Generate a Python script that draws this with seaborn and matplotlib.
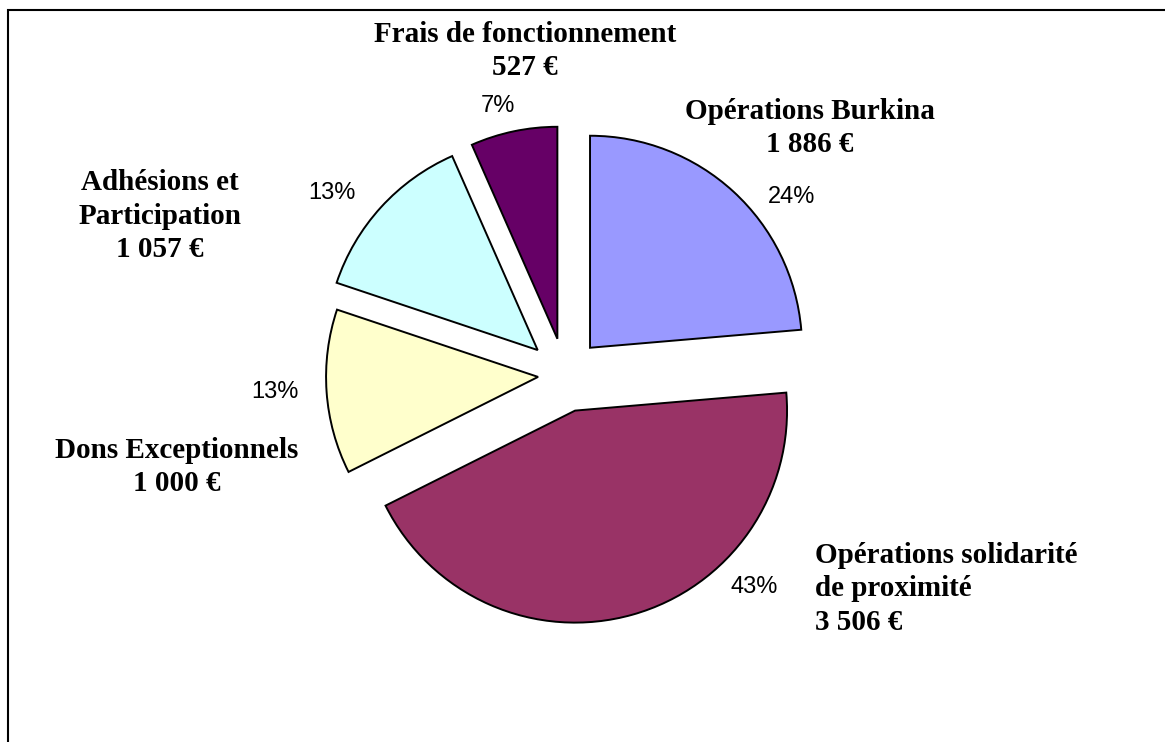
import matplotlib
matplotlib.use("Agg")
import matplotlib.pyplot as plt
import seaborn as sns

# data (clockwise from 12 o'clock)
categories = ["Opérations Burkina", "Opérations solidarité de proximité",
              "Dons Exceptionnels", "Adhésions et Participation",
              "Frais de fonctionnement"]
amounts = [1886, 3506, 1000, 1057, 527]
pct_labels = ["24%", "43%", "13%", "13%", "7%"]
name_labels = ["Opérations Burkina\n1 886 €",
               "Opérations solidarité\nde proximité\n3 506 €",
               "Dons Exceptionnels\n1 000 €",
               "Adhésions et\nParticipation\n1 057 €",
               "Frais de fonctionnement\n527 €"]
colors = ["#9999FF", "#993366", "#FFFFCC", "#CCFFFF", "#660066"]

sns.set_style("white")
plt.rcParams['font.family'] = ['Liberation Serif', 'DejaVu Serif']
plt.rcParams['text.color'] = 'black'

W, H = 1165, 742
fig = plt.figure(figsize=(W / 100, H / 100), dpi=100)
ax = fig.add_axes([0, 0, 1, 1])

cx, cy, r = 565, H - 375, 212
# explode is in data units (pixels here)
ax.pie(amounts, colors=colors, startangle=90, counterclock=False,
       explode=[37, 37, 27, 37, 37], radius=r, center=(cx, cy),
       wedgeprops=dict(edgecolor="black", linewidth=1.4), frame=True)

# label placement in pixel coords (x, y from top)
pct_pos = [(792, 197), (754, 587), (275, 392), (332, 193), (498, 106)]
name_pos = [(810, 128, "center"), (815, 589, "left"), (177, 467, "center"),
            (160, 216, "center"), (525, 51, "center")]

for txt, (x, y) in zip(pct_labels, pct_pos):
    ax.text(x, H - y, txt, ha="center", va="center", fontsize=17,
            family=["Liberation Sans", "DejaVu Sans"])
for txt, (x, y, ha) in zip(name_labels, name_pos):
    ax.text(x, H - y, txt, ha=ha, va="center", fontsize=21, fontweight="bold",
            multialignment=ha, linespacing=1.32)

ax.set_xlim(0, W)
ax.set_ylim(0, H)
ax.set_aspect("equal")
ax.axis("off")

# chart frame (right and bottom edges cut off)
ax.plot([8, 8, W + 5], [-5, H - 10, H - 10], color="black", lw=1.5,
        solid_joinstyle="miter", clip_on=False)

fig.savefig("out.png", dpi=100)
